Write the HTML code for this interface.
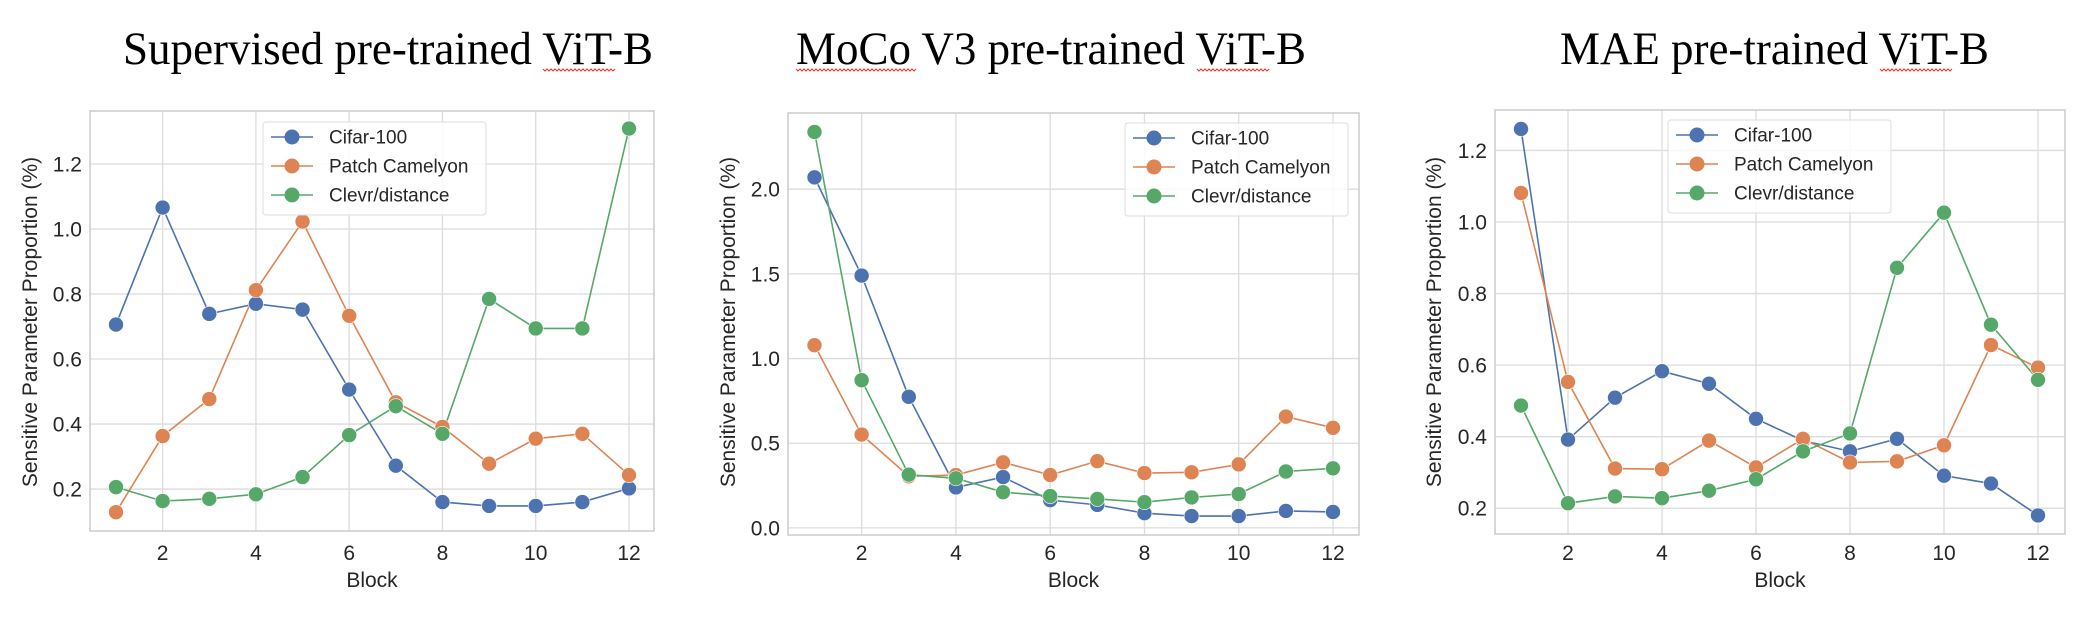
<!DOCTYPE html>
<html><head><meta charset="utf-8">
<style>
html,body{margin:0;padding:0;background:#fff;width:2094px;height:620px;overflow:hidden}
svg{display:block}
.title{font-family:"Liberation Serif",serif;font-size:47px;fill:#000}
.tick{font-family:"Liberation Sans",sans-serif;font-size:21px;fill:#262626}
.lab{font-family:"Liberation Sans",sans-serif;font-size:21px;fill:#262626}
.leg{font-family:"Liberation Sans",sans-serif;font-size:19px;fill:#262626}
</style></head>
<body>
<svg id="fig" width="2094" height="620" xmlns="http://www.w3.org/2000/svg"></svg>
<script>
const blocks=[1,2,3,4,5,6,7,8,9,10,11,12];
const seriesNames=["Cifar-100","Patch Camelyon","Clevr/distance"];
const colors=["#4c72b0","#dd8452","#55a868"];
const titles=["Supervised pre-trained ViT-B","MoCo V3 pre-trained ViT-B","MAE pre-trained ViT-B"];
const supCifar=[0.706,1.066,0.739,0.770,0.752,0.506,0.272,0.160,0.148,0.148,0.160,0.202];
const supPatch=[0.129,0.363,0.477,0.812,1.023,0.733,0.467,0.391,0.278,0.355,0.370,0.243];
const supClevr=[0.206,0.163,0.170,0.184,0.237,0.366,0.455,0.370,0.785,0.694,0.694,1.309];
const mocoCifar=[2.07,1.49,0.774,0.239,0.300,0.164,0.136,0.087,0.070,0.070,0.100,0.094];
const mocoPatch=[1.079,0.551,0.305,0.312,0.387,0.312,0.394,0.324,0.328,0.375,0.657,0.591];
const mocoClevr=[2.338,0.872,0.314,0.293,0.211,0.188,0.171,0.152,0.180,0.200,0.333,0.352];
const maeCifar=[1.26,0.392,0.509,0.583,0.548,0.450,0.389,0.359,0.394,0.291,0.269,0.180];
const maePatch=[1.081,0.553,0.311,0.309,0.389,0.314,0.394,0.328,0.331,0.376,0.656,0.593];
const maeClevr=[0.487,0.214,0.233,0.228,0.249,0.281,0.359,0.409,0.872,1.026,0.713,0.559];
const xTicks=[2,4,6,8,10,12];
const supYTicks=[0.2,0.4,0.6,0.8,1.0,1.2];
const mocoYTicks=[0.0,0.5,1.0,1.5,2.0];
const maeYTicks=[0.2,0.4,0.6,0.8,1.0,1.2];

const NS="http://www.w3.org/2000/svg";
const svg=document.getElementById('fig');
function mk(tag,attrs,parent){const e=document.createElementNS(NS,tag);for(const k in attrs)e.setAttribute(k,attrs[k]);(parent||svg).appendChild(e);return e;}

const panels=[
 {key:"supervised",title:titles[0],tl:123,tw:530,L:90,R:654,T:111,B:531,ymin:0.071,ymax:1.363,x1:116,x12:629,yt:supYTicks,dec:1,data:[supCifar,supPatch,supClevr],ylx:30,leg:[263,122]},
 {key:"moco",title:titles[1],tl:796,tw:510,L:788,R:1359,T:113,B:535,ymin:-0.042,ymax:2.45,x1:814.5,x12:1333,yt:mocoYTicks,dec:1,data:[mocoCifar,mocoPatch,mocoClevr],ylx:728,leg:[1125,123]},
 {key:"mae",title:titles[2],tl:1560,tw:429,L:1495,R:2065,T:110,B:534,ymin:0.128,ymax:1.313,x1:1521,x12:2038,yt:maeYTicks,dec:1,data:[maeCifar,maePatch,maeClevr],ylx:1434,leg:[1668,120]}
];

panels.forEach(p=>{
 const g=mk('g',{});
 
 
 const xs=v=>p.x1+(v-1)*(p.x12-p.x1)/11;
 const ys=v=>p.B-(v-p.ymin)/(p.ymax-p.ymin)*(p.B-p.T);
 const t=mk('text',{x:p.tl,y:64,class:'title',textLength:p.tw,lengthAdjust:'spacingAndGlyphs'},g);
 t.textContent=p.title;
 
 
 mk('rect',{x:p.L,y:p.T,width:p.R-p.L,height:p.B-p.T,fill:'#fff'},g);
 xTicks.forEach(v=>{
  const l=mk('line',{x1:xs(v),x2:xs(v),y1:p.T,y2:p.B,stroke:'#dcdcdc','stroke-width':1.3},g);
  
  
  const tt=mk('text',{x:xs(v),y:560,'text-anchor':'middle',class:'tick'},g);
  tt.textContent=v;
  
  
 });
 p.yt.forEach(v=>{
  const l=mk('line',{x1:p.L,x2:p.R,y1:ys(v),y2:ys(v),stroke:'#dcdcdc','stroke-width':1.3},g);
  
  
  const tt=mk('text',{x:p.L-8,y:ys(v)+7.5,'text-anchor':'end',class:'tick'},g);
  tt.textContent=v.toFixed(p.dec);
  
  
 });
 const fr=mk('rect',{x:p.L,y:p.T,width:p.R-p.L,height:p.B-p.T,fill:'none',stroke:'#cccccc','stroke-width':1.5},g);
 
 
 const xl=mk('text',{x:(p.L+p.R)/2,y:587,'text-anchor':'middle',class:'lab'},g);
 xl.textContent='Block';
 
 
 const yl=mk('text',{x:0,y:0,'text-anchor':'middle',class:'lab',transform:`translate(${p.ylx+7},322) rotate(-90)`},g);
 yl.textContent='Sensitive Parameter Proportion (%)';
 
 
 p.data.forEach((arr,si)=>{
  const pl=mk('polyline',{points:arr.map((v,i)=>xs(blocks[i])+','+ys(v)).join(' '),fill:'none',stroke:colors[si],'stroke-width':1.6},g);
  
  
 });
 p.data.forEach((arr,si)=>{
  arr.forEach((v,i)=>{
   const c=mk('circle',{cx:xs(blocks[i]),cy:ys(v),r:7.5,fill:colors[si],stroke:'#fff','stroke-width':0.6},g);
   
   
  });
 });
 const [lx,ly]=p.leg;
 const lg=mk('g',{},g);
 
 
 mk('rect',{x:lx,y:ly,width:223,height:93,rx:3,fill:'#fff','fill-opacity':0.85,stroke:'#dddddd','stroke-width':1},lg);
 seriesNames.forEach((n,si)=>{
  const yy=ly+15+si*29;
  const e=mk('g',{},lg);
  
  
  mk('line',{x1:lx+8,x2:lx+50,y1:yy,y2:yy,stroke:colors[si],'stroke-width':1.6},e);
  mk('circle',{cx:lx+29,cy:yy,r:7.5,fill:colors[si]},e);
  const tx=mk('text',{x:lx+66,y:yy+6.5,class:'leg'},e);
  tx.textContent=n;
 });
});
function squig(x1,x2,y){let d=`M${x1},${y}`;for(let x=x1;x<x2;x+=4){d+=` l2,2 l2,-2`;}
 const s=mk('path',{d:d,fill:'none',stroke:'#e0332b','stroke-width':1});
 
 }
squig(543,614,69);
squig(796,915,69);squig(1197,1268,69);
squig(1880,1951,69);
</script>
</body></html>
